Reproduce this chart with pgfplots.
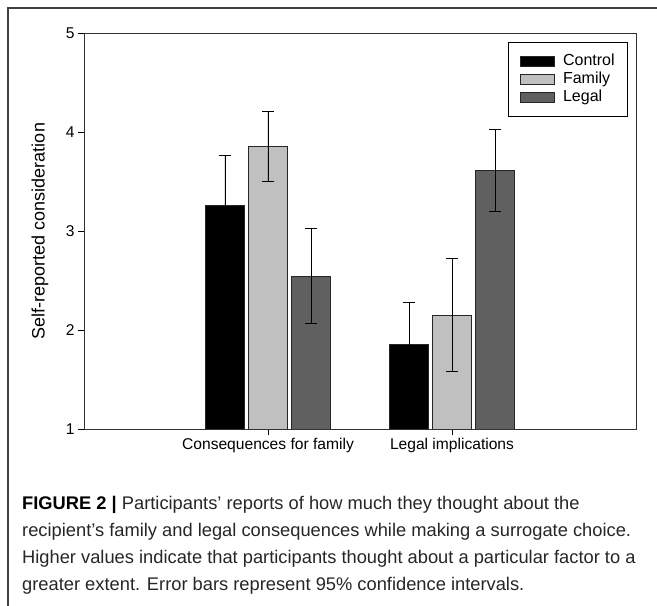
\documentclass[border=0pt]{standalone}
\usepackage{fontspec}
\setmainfont{Liberation Sans}
\usepackage{pgfplots}
\pgfplotsset{compat=1.18}
\definecolor{famgray}{HTML}{C0C0C0}
\definecolor{legalgray}{HTML}{606060}
\begin{document}
\begin{tikzpicture}[x=1pt,y=1pt]
\useasboundingbox (0,0) rectangle (657,606);
\draw[line width=1.2pt, black!75] (8,0) -- (8,598) -- (657,598);
\begin{axis}[
  at={(84pt,177pt)}, anchor=south west,
  scale only axis, width=552pt, height=396pt,
  xmin=-1, xmax=2, ymin=1, ymax=5,
  ytick={1,2,3,4,5}, xtick={0,1},
  xticklabels={Consequences for family, Legal implications},
  ytick pos=left, xtick pos=bottom, tick align=outside,
  major tick length=6pt,
  tick style={black, line width=0.7pt},
  axis line style={black!80, line width=0.8pt},
  ylabel={Self-reported consideration},
  every axis y label/.style={at={(axis description cs:-0.0797,0.5)}, anchor=center, rotate=90, font=\fontsize{18}{20}\selectfont},
  tick label style={font=\fontsize{15.6}{18}\selectfont},
  /pgf/number format/assume math mode=true,
  ybar=4pt, bar width=39pt,
  every axis plot/.append style={draw=black!85, line width=0.7pt},
  error bars/y dir=both, error bars/y explicit,
  error bars/error bar style={black, line width=0.8pt},
  error bars/error mark options={rotate=90, mark size=6pt, black, line width=0.8pt},
  legend image code/.code={\draw[#1, line width=0.7pt] (0pt,-5pt) rectangle (34pt,5pt);},
  legend style={at={(0.9855,0.977)}, anchor=north east, draw=black, line width=0.7pt, fill=white,
    font=\fontsize{16}{18}\selectfont, inner xsep=12pt, inner ysep=11pt,
    nodes={inner sep=1pt, text height=11pt, text depth=3pt},
    row sep=2pt, /tikz/every odd column/.append style={column sep=7pt}},
  legend cell align=left,
]
\addplot[fill=black] coordinates {(0,3.26) +- (0,0.50) (1,1.85) +- (0,0.43)};
\addplot[fill=famgray] coordinates {(0,3.85) += (0,0.36) -= (0,0.35) (1,2.15) +- (0,0.57)};
\addplot[fill=legalgray] coordinates {(0,2.54) += (0,0.49) -= (0,0.47) (1,3.61) += (0,0.42) -= (0,0.41)};
\legend{Control,Family,Legal}
\end{axis}
\node[anchor=base west, align=left, inner sep=0pt, font=\fontsize{18.3}{27.3}\selectfont, text=black!85] at (22,15)
{\textbf{\color{black}FIGURE 2 |} Participants’ reports of how much they thought about the\\
recipient’s family and legal consequences while making a surrogate choice.\\
Higher values indicate that participants thought about a particular factor to a\\
greater extent. Error bars represent 95\% confidence intervals.};
\end{tikzpicture}
\end{document}
